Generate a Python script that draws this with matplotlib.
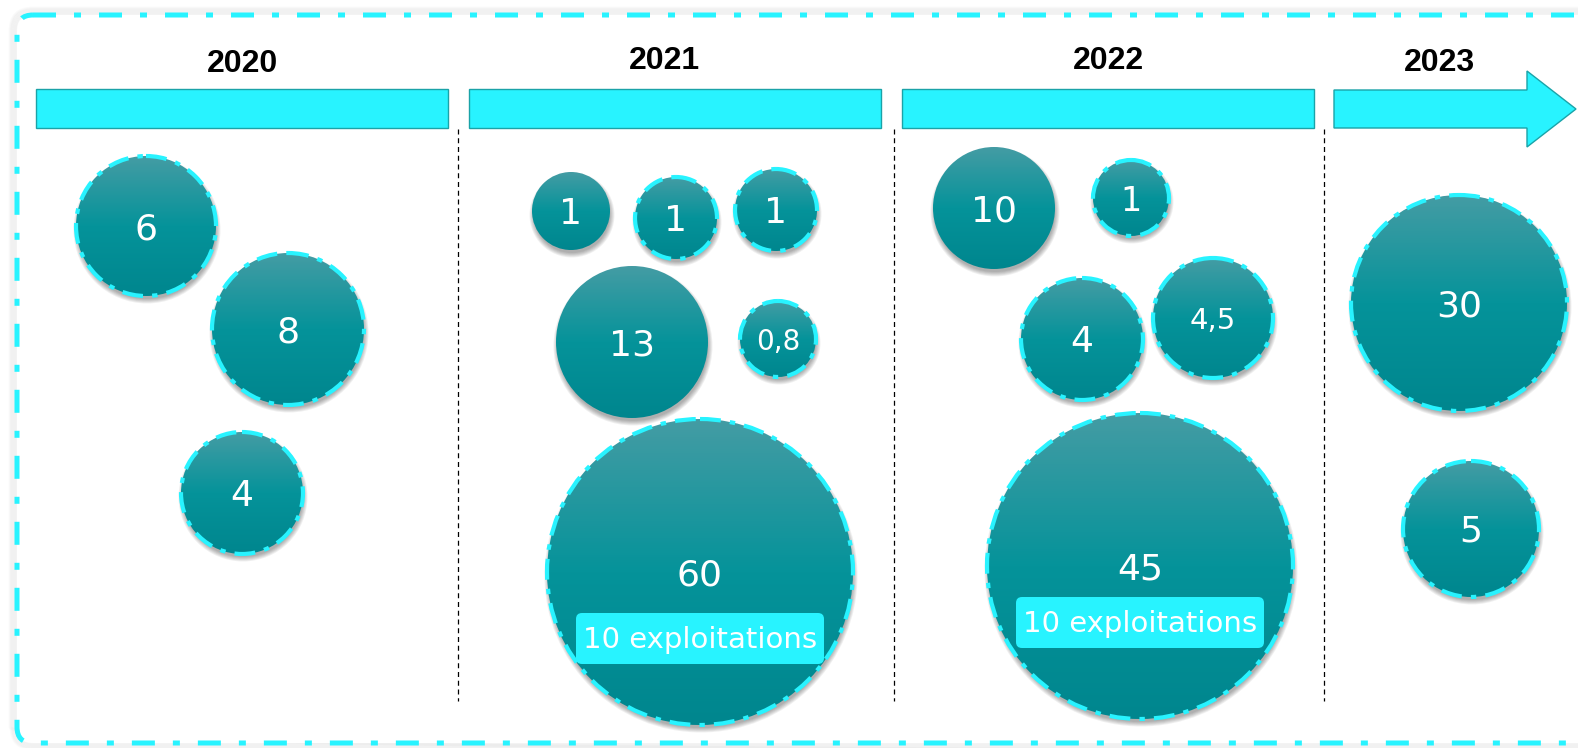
import matplotlib
matplotlib.use("Agg")
import matplotlib.pyplot as plt
import numpy as np
from matplotlib.patches import Circle, FancyBboxPatch, Rectangle, Polygon

# ---------------- data ----------------
years = ["2020", "2021", "2022", "2023"]
bubble_year = ["2020", "2020", "2020",
               "2021", "2021", "2021", "2021", "2021", "2021",
               "2022", "2022", "2022", "2022", "2022",
               "2023", "2023"]
bubble_values = [6, 8, 4,
                 1, 1, 1, 13, 0.8, 60,
                 10, 1, 4, 4.5, 45,
                 30, 5]
bubble_dashed = [True, True, True,
                 False, True, True, False, True, True,
                 False, True, True, True, True,
                 True, True]
bubble_note = {60: "10 exploitations", 45: "10 exploitations"}

# ---------------- layout (pixels) ----------------
bx = [146, 288, 242, 571, 676, 776, 632, 778, 700, 994, 1131, 1082, 1213, 1140, 1459, 1471]
by = [226, 329, 493, 211, 218, 210, 342, 339, 572, 208, 198, 339, 318, 566, 303, 529]
br = [70, 76, 61, 39, 41, 41, 76, 38, 153, 61, 38, 61, 60, 153, 108, 68]
fs = [26, 26, 26, 26, 26, 26, 26, 20, 26, 26, 24, 26, 21, 26, 26, 26]
note_dy = {60: 41, 45: 31}

W, H = 1578, 748
CYAN = "#28F3FF"
fig = plt.figure(figsize=(W / 100, H / 100), dpi=100)
ax = fig.add_axes([0, 0, 1, 1])
ax.set_xlim(0, W)
ax.set_ylim(H, 0)
ax.axis("off")

# outer frame shadow + frame
for k in range(8):
    ax.add_patch(FancyBboxPatch((17 - k, 15 - k), 1600 + 2 * k, 728 + 2 * k,
                                boxstyle="round,pad=0,rounding_size=%d" % (16 + k),
                                facecolor="none", edgecolor="#000000", alpha=0.02,
                                linewidth=2, zorder=0))
ax.add_patch(FancyBboxPatch((17, 15), 1600, 728,
                            boxstyle="round,pad=0,rounding_size=16",
                            facecolor="white", edgecolor=CYAN, linewidth=3.6,
                            linestyle=(0, (4.6, 3.6, 1.4, 3.6)), zorder=1))

# header bars
bar_x = [36, 469, 902]
for x0 in bar_x:
    ax.add_patch(Rectangle((x0, 89), 412, 39, facecolor=CYAN, edgecolor="#1AA3A8",
                           linewidth=1.0, zorder=2))
arrow = Polygon([(1334, 90), (1527, 90), (1527, 71), (1576, 109), (1527, 147),
                 (1527, 128), (1334, 128)], closed=True, facecolor=CYAN,
                edgecolor="#1AA3A8", linewidth=1.0, zorder=2)
ax.add_patch(arrow)

year_x = [243, 664, 1108, 1439]
year_y = [64, 61, 61, 63]
for yr, x, y in zip(years, year_x, year_y):
    ax.text(x, y, yr, ha="center", va="center", fontsize=23, fontweight="bold",
            family="Liberation Sans", color="black", zorder=3)

# separators
for x in [458, 894, 1324]:
    ax.plot([x, x], [129, 701], color="black", linewidth=0.9,
            linestyle=(0, (4, 3)), zorder=2)

# gradient
top = np.array([0x44, 0x9C, 0xA4]) / 255
mid = np.array([0x05, 0x93, 0x9A]) / 255
bot = np.array([0x00, 0x86, 0x8E]) / 255
t = np.linspace(0, 1, 256)[:, None]
grad = np.where(t < 0.5, top + (mid - top) * (t / 0.5), mid + (bot - mid) * ((t - 0.5) / 0.5))
grad = grad[:, None, :]


def fmt(v):
    return ("%g" % v).replace(".", ",")


for i, v in enumerate(bubble_values):
    x, y, r = bx[i], by[i], br[i]
    # shadow
    for k in range(6):
        ax.add_patch(Circle((x + 1, y + 4), r - 1 + k * 0.9, facecolor="black",
                            edgecolor="none", alpha=0.06, zorder=3))
    clip = Circle((x, y), r, facecolor="none", edgecolor="none", zorder=4)
    ax.add_patch(clip)
    im = ax.imshow(grad, extent=(x - r, x + r, y + r, y - r), origin="upper",
                   aspect="auto", zorder=4, interpolation="bilinear")
    im.set_clip_path(clip)
    if bubble_dashed[i]:
        ax.add_patch(Circle((x, y), r, facecolor="none", edgecolor=CYAN, linewidth=3.0,
                            linestyle=(0, (5, 2.2, 1.3, 2.2)), zorder=5))
    ax.text(x, y + 3, fmt(v), ha="center", va="center",
            fontsize=fs[i], color="white", family="DejaVu Sans", zorder=6)
    if v in bubble_note:
        dy = note_dy[v]
        ax.add_patch(FancyBboxPatch((x - 124, y + dy), 248, 51,
                                    boxstyle="round,pad=0,rounding_size=6",
                                    facecolor=CYAN, edgecolor="none", zorder=6))
        ax.text(x, y + dy + 27, bubble_note[v], ha="center", va="center",
                fontsize=21, color="white", family="DejaVu Sans", zorder=7)

ax.set_xlim(0, W)
ax.set_ylim(H, 0)
fig.savefig("out.png", dpi=100)
